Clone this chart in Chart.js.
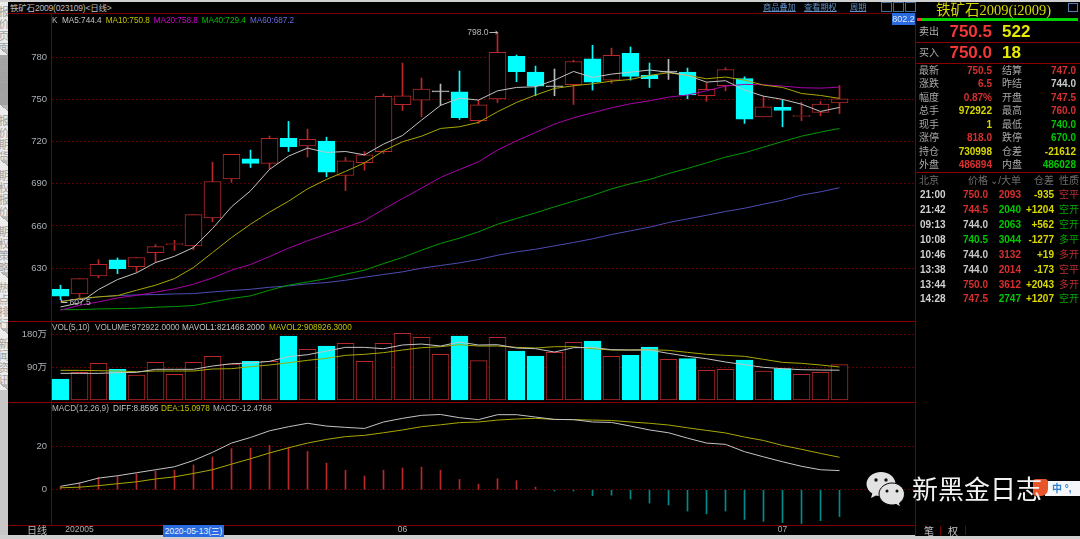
<!DOCTYPE html>
<html>
<head>
<meta charset="utf-8">
<script src="https://cdn.jsdelivr.net/npm/chart.js@4"></script>
<style>
html, body { margin: 0; padding: 0; background: #000; width: 1080px; height: 539px; overflow: hidden; }
body { position: relative; font-family: "Liberation Sans", "Noto Sans CJK SC", sans-serif; font-size: 10px; color: #b8b8b8; }
canvas { position: absolute; left: 8px; }
.t { position: absolute; white-space: nowrap; line-height: 12px; height: 12px; }
.line { position: absolute; background: #7a0000; }
#panel { position: absolute; left: 916px; top: 14px; width: 164px; height: 522px; background: #000; }
.tab { position: absolute; left: 0; width: 8px; overflow: hidden; background: #ececec; color: #a0a0a0; font-size: 11px; }
.tab span { position: absolute; left: -3px; top: 4px; writing-mode: vertical-rl; line-height: 11px; letter-spacing: 1px; }
.tab i { position: absolute; left: 0; bottom: 0; width: 8px; height: 6px; background: linear-gradient(to top right, #ececec 50%, #9a9a9a 50%, #b8b8b8 60%); }
</style>
</head>
<body>
<canvas id="kChart" width="917" height="307" style="top:14px"></canvas>
<canvas id="volChart" width="917" height="80" style="top:322px"></canvas>
<canvas id="macdChart" width="917" height="134" style="top:402px"></canvas>
<div id="overlay"></div>
<script>
const dates = ['05-06','05-07','05-08','05-11','05-12','05-13','05-14','05-15','05-18','05-19','05-20','05-21','05-22','05-25','05-26','05-27','05-28','05-29',
  '06-01','06-02','06-03','06-04','06-05','06-08','06-09','06-10','06-11','06-12','06-15','06-16','06-17','06-18','06-19','06-22','06-23','06-24','06-29','06-30',
  '07-01','07-02','07-03','07-06'];
const opens = [614.9,611.5,624.4,635.8,631,641,646.5,645.8,665.7,693.5,707.8,704.5,722.3,717,720.4,695.9,705,712.8,746.3,749.6,755.5,755.5,734.9,750.5,780.7,769.5,759.1,760.5,779,763.8,782.9,767.2,769.5,769.5,752.7,759.8,765,737.7,744.4,738,740.8,747.5];
const closes = [610,622.5,632.7,629.6,637.5,645.3,647.5,668,691.6,710.9,704.5,722.3,716.3,721.6,698.3,706.4,710.6,752.2,752.7,757.4,755.5,737,746.3,783.6,769.8,759.6,759.1,777.1,762.4,781.4,766.5,764.8,769.5,753.2,757.2,771.4,736,744.8,742.2,738.5,746.7,750.5];
const highs = [617.8,622.5,636,637.2,637.5,646.7,649.8,668,705.4,710.9,714,724,734.4,728.9,723.2,708.7,713,753.9,776,765.3,761,770.3,749.6,798,781.7,773.8,771.7,778,788.6,786.6,787.4,776,778.6,772.4,762,772.6,766.2,752.4,749.6,748,748.6,760];
const lows = [607.5,608,623,626,627,634,642.7,643,662.9,691,701.6,700.4,713,709,695,685.2,699.7,711.6,742.2,737.7,745.8,735.8,733,747.9,762.7,752.7,752.7,746.5,756.7,761.5,763.8,758.6,764.3,750.5,748.7,756.2,733,737.7,730.6,735,738.4,740];

const ma5 = [602.3,605.2,614.7,621.8,626.6,633.9,638.4,644.6,658.1,673.6,685,700.2,709.7,715.4,712.3,713,710.6,718.2,724.4,735.3,745.8,751,749.6,756.2,758.6,759.1,763.8,770,765.7,768.1,769.5,771,769.5,767.2,762.4,763.4,756.7,752.4,750.1,746.7,741.5,744.4];
const ma10 = [605.9,608.3,609.5,610.4,614.2,617.8,622.5,630.4,641,651.7,661.2,669.8,677.6,686.4,693.1,698.8,704.9,713.5,719.9,723.9,729.4,730.6,733.7,741.3,747.9,753.2,757.9,759.8,761.2,763.1,764.3,767.2,769.1,767.2,764.8,766,763.8,760.3,758.6,754.3,752.9,750.8];
const ma20 = [600,603.5,605.9,608.7,610.6,612.8,615.2,618.5,623,628.5,632.5,638.2,644.1,649.4,654.1,658.9,663.8,671.9,679.5,686.9,694.5,700.2,705.7,714,720.6,726.6,732.5,737,740.6,744.1,747,749.1,751.7,753.2,756.2,759.6,760.8,760.5,759.6,758.4,758.1,758.8];
const ma40 = [600.4,600.4,600.9,601.1,601.4,602.1,602.6,603.3,605.9,608.3,610.2,614.2,617.8,620.1,622.5,625.6,628.5,633.2,637.5,642.7,647.5,651.3,655.8,661.2,665.3,669.3,673.6,677.6,681.7,686.4,690,693.1,697.3,700.9,704.9,709,712.1,716.1,720.1,723.9,726.8,729.4];
const ma60 = [606.6,607.6,609.5,610.4,610.9,611.1,611.6,611.8,613,614,614.9,616.3,617.3,618.7,619.7,621.3,623.5,625.4,627.3,629.9,631.8,633.7,636.1,639.1,641.5,643.4,645.8,648.2,650.8,653.9,656.5,659.1,662.4,665,667.6,670.3,672.6,675.5,678.3,681.9,684.3,687.2];

// volume in 万手
const volumes = [57.8,76.2,101,84.5,68.9,103.7,70.7,103.7,120.3,99.1,106.5,106.5,176.3,139.5,148.7,156,106.5,156,183.6,172.6,125.8,176.3,108.3,172.6,134.9,121.2,131.3,158.8,162.5,120.3,123,146,112,113.8,81.7,84.5,110.2,79.9,86.3,70.7,76.2,97.3];
const mavol1 = [73.4,73.4,73.4,75.3,76.2,84.5,84.5,84.5,93.6,100,101.9,106.5,119.3,124.8,134.9,145,145,141.4,151.5,154.2,148.7,159.7,151.5,152.4,143.2,141.4,132.2,144.1,145,138.6,137.7,137.7,128.5,120.3,113.8,104.7,97.3,90,86.3,83.5,82.6,82.1];
const mavol2 = [81.7,81.7,80.8,79.9,78,79.9,79.9,79.9,85.4,86.3,91.8,96.4,102.8,109.2,114.8,123,125.8,130.4,137.7,144.1,146.9,152.4,148.7,148.7,145,143.2,146.9,146.9,141.4,137.7,137.7,138.6,136.8,131.3,125.8,123,120.3,112,103.7,101,96.4,90.9];

const diff = [1.6,3.1,5.4,6.5,7.9,9.3,10.7,13.6,17.4,21.7,24.3,27.4,29.3,30.9,29.6,29,28.5,31.5,33.2,34.6,35,33.5,32.6,34.9,34.9,33.8,32.7,32.6,31.5,31.3,29.6,27.8,26.5,24,21.7,21.1,17.7,15.3,13,10.9,9.3,8.9];
const dea = [0.9,1.2,1.9,2.8,3.7,5,6,7.6,9.3,11.9,14.4,17.1,19.5,21.7,23.4,24.7,25.3,26.5,27.8,29.3,30.2,31.2,31.5,32.4,32.9,33.2,32.7,32.6,32.4,32.2,31.5,30.9,30.1,28.8,27.6,26.4,24.5,22.9,20.6,18.8,16.9,15.1];
const macd = [1.4,3.3,5.7,6.2,7.4,8.7,9,11.5,15.2,19.1,19.4,20.6,19.5,17.8,12.4,9,6.4,9.1,10.1,10.5,9.1,4.8,2.6,5.1,4.2,1.2,-0.6,-0.6,-2.8,-2.5,-4.3,-6.2,-7.1,-9.9,-11.2,-9.9,-13.8,-14.7,-15.3,-15.7,-14.4,-12.5];

const priceTicks = [630, 660, 690, 720, 750, 780];
const volTicks = [90, 180];
const macdTicks = [0, 20];
const monthLabels = { 1: '202005', 18: '06', 38: '07' };

// four empty slots on the right of the last candle
const labels = dates.concat(['', '', '', '']);

const RED = '#b82828';
const CYAN = '#00ffff';
const TEAL = '#008b8b';
const GRID = '#5c0000';
const AXIS = '#7a0000';

const candleColors = opens.map((o, i) => closes[i] === o ? '#b8b8b8' : (closes[i] > o ? RED : CYAN));
const candleFills = opens.map((o, i) => closes[i] === o ? '#b8b8b8' : (closes[i] > o ? '#000' : CYAN));

function lineSet(label, data, color) {
    return { type: 'line', label, data, borderColor: color, borderWidth: 1, pointRadius: 0, tension: 0, order: 1 };
}

function yAxis(min, max, ticks, text) {
    return {
        min, max,
        afterBuildTicks: scale => { scale.ticks = ticks.map(value => ({ value })); },
        // fixed gutter, and no room reserved for the tick labels above and below the plot
        afterFit: scale => { scale.width = 43; scale.paddingTop = 0; scale.paddingBottom = 0; },
        border: { display: true, color: AXIS, width: 1, dash: [2, 2] },
        grid: { color: GRID, tickLength: 0, lineWidth: 1 },
        ticks: {
            color: '#aab0b6',
            padding: 4,
            font: { family: '"Liberation Sans", "Noto Sans CJK SC"', size: 9.5 },
            callback: text
        }
    };
}

const hiddenX = { display: false, grid: { display: false } };

function baseOptions(scales) {
    return {
        responsive: false,
        animation: false,
        events: [],
        layout: { padding: 0, autoPadding: false },
        plugins: { legend: { display: false }, title: { display: false }, tooltip: { enabled: false } },
        scales
    };
}

// little "798.0 ->" style marks at the highest high and lowest low
const extremesPlugin = {
    id: 'extremes',
    afterDatasetsDraw(chart) {
        const ctx = chart.ctx;
        const x = chart.scales.x, y = chart.scales.y;
        const iHigh = highs.indexOf(Math.max(...highs));
        const iLow = lows.indexOf(Math.min(...lows));
        ctx.save();
        ctx.font = '8.5px "Liberation Sans"';
        ctx.fillStyle = ctx.strokeStyle = '#b8b8b8';
        ctx.textBaseline = 'middle';
        ctx.lineWidth = 1;
        const hx = x.getPixelForValue(iHigh), hy = Math.round(y.getPixelForValue(highs[iHigh])) + 0.5;
        ctx.textAlign = 'right';
        ctx.fillText(highs[iHigh].toFixed(1), hx - 9, hy);
        ctx.beginPath(); ctx.moveTo(hx - 8, hy); ctx.lineTo(hx, hy); ctx.moveTo(hx - 2, hy - 1.5); ctx.lineTo(hx, hy); ctx.lineTo(hx - 2, hy + 1.5); ctx.stroke();
        const lx = x.getPixelForValue(iLow), ly = Math.round(y.getPixelForValue(lows[iLow])) + 0.5;
        ctx.textAlign = 'left';
        ctx.fillText(lows[iLow].toFixed(1), lx + 9, ly + 2);
        ctx.beginPath(); ctx.moveTo(lx + 1, ly - 1); ctx.lineTo(lx + 1, ly + 2); ctx.lineTo(lx + 7, ly + 2); ctx.stroke();
        ctx.restore();
    }
};

new Chart(document.getElementById('kChart'), {
    data: {
        labels,
        datasets: [
            lineSet('MA5', ma5, '#c4c4c4'),
            lineSet('MA10', ma10, '#a8a800'),
            lineSet('MA20', ma20, '#a800a8'),
            lineSet('MA40', ma40, '#009a00'),
            lineSet('MA60', ma60, '#4c4cb4'),
            {
                type: 'bar', label: 'body', order: 5, grouped: false,
                data: opens.map((o, i) => [Math.min(o, closes[i]), Math.max(o, closes[i])]),
                backgroundColor: candleFills, borderColor: candleColors,
                borderWidth: 1, borderSkipped: false, barThickness: 17, minBarLength: 1
            },
            {
                type: 'bar', label: 'wick', order: 6, grouped: false,
                data: lows.map((l, i) => [l, highs[i]]),
                backgroundColor: candleColors, borderWidth: 0, barThickness: 1
            }
        ]
    },
    options: baseOptions({ x: hiddenX, y: yAxis(592.3, 810.9, priceTicks, v => v) }),
    plugins: [extremesPlugin]
});

new Chart(document.getElementById('volChart'), {
    data: {
        labels,
        datasets: [
            lineSet('MAVOL1', mavol1, '#c4c4c4'),
            lineSet('MAVOL2', mavol2, '#a8a800'),
            {
                type: 'bar', label: 'VOLUME', order: 5, data: volumes,
                backgroundColor: opens.map((o, i) => closes[i] >= o ? '#000' : CYAN),
                borderColor: opens.map((o, i) => closes[i] >= o ? RED : CYAN),
                borderWidth: 1, borderSkipped: false, barThickness: 17
            }
        ]
    },
    options: baseOptions({ x: hiddenX, y: yAxis(-5.5, 214.9, volTicks, v => v + '万') })
});

new Chart(document.getElementById('macdChart'), {
    data: {
        labels,
        datasets: [
            lineSet('DIFF', diff, '#c4c4c4'),
            lineSet('DEA', dea, '#a8a800'),
            {
                type: 'bar', label: 'MACD', order: 5, data: macd,
                backgroundColor: macd.map(v => v >= 0 ? RED : TEAL),
                borderWidth: 0, barThickness: 1
            }
        ]
    },
    options: baseOptions({
        x: {
            afterFit: scale => { scale.height = 11; },
            border: { display: false },
            grid: { display: false, tickLength: 0 },
            ticks: {
                autoSkip: false, maxRotation: 0, color: '#b0b0b0', padding: 0,
                font: { family: '"Liberation Sans"', size: 8.5 },
                callback: (v, i) => monthLabels[i] || ''
            }
        },
        y: yAxis(-16.4, 40.8, macdTicks, v => v)
    })
});

// everything below is the terminal frame around the charts
const overlay = document.getElementById('overlay');

function put(text, x, y, color, opts) {
    opts = opts || {};
    const el = document.createElement('div');
    el.className = 't';
    el.textContent = text;
    el.style.top = (y - 6) + 'px';
    if (opts.right) el.style.right = (1080 - x) + 'px';
    else el.style.left = x + 'px';
    if (color) el.style.color = color;
    if (opts.size) el.style.fontSize = opts.size + 'px';
    if (opts.bold) el.style.fontWeight = 'bold';
    if (opts.family) el.style.fontFamily = opts.family;
    if (opts.css) el.style.cssText += opts.css;
    overlay.appendChild(el);
    return el;
}

function rule(x, y, w, h, color) {
    const el = document.createElement('div');
    el.className = 'line';
    el.style.cssText = `left:${x}px;top:${y}px;width:${w}px;height:${h}px;` + (color ? `background:${color};` : '');
    overlay.appendChild(el);
}

// left side tabs
const tabNames = ['报价页面', '图表期货', '报价期货', '期权报价', '期权策略', '热点排行', '新闻资讯'];
const tabTops = [2, 55, 111, 166, 222, 278, 334];
tabNames.forEach((name, i) => {
    const el = document.createElement('div');
    el.className = 'tab';
    el.style.top = tabTops[i] + 'px';
    el.style.height = (i < 6 ? tabTops[i + 1] - tabTops[i] : 56) + 'px';
    if (i === 1) el.style.background = '#a6a6a6';
    el.innerHTML = `<span>${name}</span><i></i>`;
    overlay.appendChild(el);
});
rule(0, 390, 8, 149, '#c8c8c8');
rule(0, 0, 1080, 2, '#d0d0d0');
rule(0, 535, 1080, 4, '#cfcfcf');

// frame lines
rule(8, 13, 908, 1);
rule(8, 321, 908, 1, '#8a0000');
rule(8, 402, 908, 1, '#8a0000');
rule(8, 525, 1072, 1);

// terminal's narrow small print: tall but tight text
const SMALL = 8.2;
const TALL = 'transform:scaleY(1.15);';

// header
put('铁矿石2009(023109)<日线>', 10, 8, '#bdbdbd', { size: 8.5, css: 'letter-spacing:-0.2px;' });
[['商品叠加', 763], ['查看期权', 804], ['周期', 850]].forEach(l =>
    put(l[0], l[1], 8, '#5f8fc4', { size: SMALL, css: 'text-decoration:underline;' }));
[881, 893, 905].forEach(x => {
    const b = put('', x, 8, null, { css: 'width:9px;height:8px;border:1px solid #3f6c96;' });
    b.style.top = '2px';
});
put('802.2', 892, 19, '#dbe8ff', { size: 9, css: 'background:#2a6ae0;width:23px;text-align:center;' });

// indicator legends
put('K', 52, 21, '#b8b8b8', { size: SMALL, css: TALL });
[['MA5:744.4', 62, '#c4c4c4'], ['MA10:750.8', 105.7, '#c4c400'], ['MA20:758.8', 153.7, '#d800d8'],
 ['MA40:729.4', 201.7, '#00c000'], ['MA60:687.2', 250, '#6a6ae0']].forEach(l => put(l[0], l[1], 21, l[2], { size: SMALL, css: TALL }));
[['VOL(5,10)', 52, '#b8b8b8'], ['VOLUME:972922.0000', 95, '#b8b8b8'], ['MAVOL1:821468.2000', 182, '#c8c8c8'],
 ['MAVOL2:908926.3000', 269, '#c4c400']].forEach(l => put(l[0], l[1], 328, l[2], { size: SMALL, css: TALL }));
[['MACD(12,26,9)', 52, '#b8b8b8'], ['DIFF:8.8595', 113, '#c8c8c8'], ['DEA:15.0978', 161, '#c4c400'],
 ['MACD:-12.4768', 213, '#b8b8b8']].forEach(l => put(l[0], l[1], 409, l[2], { size: SMALL, css: TALL }));

// bottom bar
put('日线', 47, 531, '#b8b8b8', { right: true });
put('2020-05-13(三)', 163, 531, '#e8f0ff', { size: 8.5, css: 'background:#2a6ae0;width:61px;text-align:center;' });

// right hand quote panel
const panel = document.createElement('div');
panel.id = 'panel';
overlay.appendChild(panel);
rule(915, 14, 1, 522);
rule(916, 42, 164, 1, '#8a0000');
rule(916, 63, 164, 1, '#8a0000');
rule(916, 172, 164, 1, '#8a0000');
rule(917, 18, 161, 3, '#00d000');
rule(917, 18, 4, 3, '#ff3030');

put('铁矿石2009(i2009)', 936, 10, '#d8d800', { size: 14.5, family: '"Liberation Serif", "Noto Sans CJK SC"' });
put('', 1068, 8, null, { css: 'width:8px;height:7px;border:1px solid #4f7fb4;' }).style.top = '3px';

const quoteRows = [['卖出', '750.5', '522', 32], ['买入', '750.0', '18', 53]];
quoteRows.forEach(q => {
    put(q[0], 919, q[3], '#b0b0b0');
    put(q[1], 992, q[3], '#f03838', { right: true, size: 17, bold: true });
    put(q[2], 1002, q[3], '#e8e800', { size: 17, bold: true });
});

const statLabelsL = ['最新', '涨跌', '幅度', '总手', '现手', '涨停', '持仓', '外盘'];
const statValuesL = ['750.5', '6.5', '0.87%', '972922', '1', '818.0', '730998', '486894'];
const statColorsL = ['#d83030', '#d83030', '#d83030', '#d8d800', '#d8d800', '#d83030', '#d8d800', '#d83030'];
const statLabelsR = ['结算', '昨结', '开盘', '最高', '最低', '跌停', '仓差', '内盘'];
const statValuesR = ['747.0', '744.0', '747.5', '760.0', '740.0', '670.0', '-21612', '486028'];
const statColorsR = ['#d83030', '#c8c8c8', '#d83030', '#d83030', '#00c800', '#00c800', '#d8d800', '#00c800'];
const statRows = [70.7, 84.3, 97.7, 111.3, 125, 138.3, 152, 165.3];
statRows.forEach((y, i) => {
    put(statLabelsL[i], 919, y, '#a8a8a8');
    put(statValuesL[i], 992, y, statColorsL[i], { right: true, bold: true });
    put(statLabelsR[i], 1002, y, '#a8a8a8');
    put(statValuesR[i], 1076, y, statColorsR[i], { right: true, bold: true });
});

put('北京', 919, 181, '#6e6e6e');
put('价格', 988, 181, '#6e6e6e', { right: true });
put('⌄/大单', 1021, 181, '#6e6e6e', { right: true });
put('仓差', 1054, 181, '#6e6e6e', { right: true });
put('性质', 1059, 181, '#6e6e6e');

const tradeTimes = ['21:00', '21:42', '09:13', '10:08', '10:46', '13:38', '13:44', '14:28'];
const tradePrices = [750.0, 744.5, 744.0, 740.5, 744.0, 744.0, 750.0, 747.5];
const tradeSizes = [2093, 2040, 2063, 3044, 3132, 2014, 3612, 2747];
const tradeOi = ['-935', '+1204', '+562', '-1277', '+19', '-173', '+2043', '+1207'];
const tradeTypes = ['空平', '空开', '空开', '多平', '多开', '空平', '多开', '空开'];
const tradeUp = [true, false, false, false, true, true, true, false];
const tradeRows = [195.3, 210.3, 225.3, 240, 255, 269.7, 284.7, 299.3];
const prevSettle = 744;
tradeRows.forEach((y, i) => {
    const p = tradePrices[i];
    put(tradeTimes[i], 920, y, '#d0d0d0', { bold: true });
    put(p.toFixed(1), 988, y, p > prevSettle ? '#d83030' : (p < prevSettle ? '#00c800' : '#c8c8c8'), { right: true, bold: true });
    put(String(tradeSizes[i]), 1021, y, tradeUp[i] ? '#d83030' : '#00c800', { right: true, bold: true });
    put(tradeOi[i], 1054, y, '#d8d800', { right: true, bold: true });
    put(tradeTypes[i], 1059, y, tradeUp[i] ? '#b83030' : '#00a800');
});

// tabs under the panel
put('笔', 924, 532, '#c0c0c0');
put('权', 948, 532, '#c0c0c0');
rule(940, 526, 1, 9);
rule(965, 526, 1, 9);

// watermark
const mark = document.createElement('div');
mark.style.cssText = 'position:absolute;left:866px;top:471px;width:40px;height:38px;';
mark.innerHTML = `<svg width="40" height="38" viewBox="0 0 40 38">
<path d="M15 1C7 1 0.5 6.5 0.5 13c0 4 2.3 7.300 5.800 9.500L5 27l5-2.600c1.500.4 3 .6 5 .6 8 0 14.500-5.500 14.500-12S23 1 15 1z" fill="#e2e2e2"/>
<path d="M26 12c-6.800 0-13 4.800-13 11s6.200 11 13 11c1.400 0 2.800-.2 4-.6l4.500 2.600-1-4c3-2 5-5 5-9 0-6.200-5.700-11-12.500-11z" fill="#e2e2e2" stroke="#000" stroke-width="1"/>
<circle cx="10" cy="9" r="1.700" fill="#111"/><circle cx="20" cy="9" r="1.700" fill="#111"/>
<circle cx="21" cy="20" r="1.500" fill="#111"/><circle cx="31" cy="20" r="1.500" fill="#111"/></svg>`;
overlay.appendChild(mark);
const ime = document.createElement('div');
ime.style.cssText = 'position:absolute;left:1045px;top:481px;width:35px;height:15px;background:#f4f6fa;';
overlay.appendChild(ime);
put('中 °,', 1052, 488.5, '#2f7fd0', { size: 10, bold: true });
const imeLogo = document.createElement('div');
imeLogo.style.cssText = 'position:absolute;left:1033px;top:479px;width:15px;height:17px;background:#e8552a;border-radius:3px 3px 7px 3px;';
overlay.appendChild(imeLogo);
put('新黑金日志', 912, 490, '#f2f2f2', { size: 26, css: 'line-height:30px;height:30px;margin-top:-9px;' });
</script>
</body>
</html>
